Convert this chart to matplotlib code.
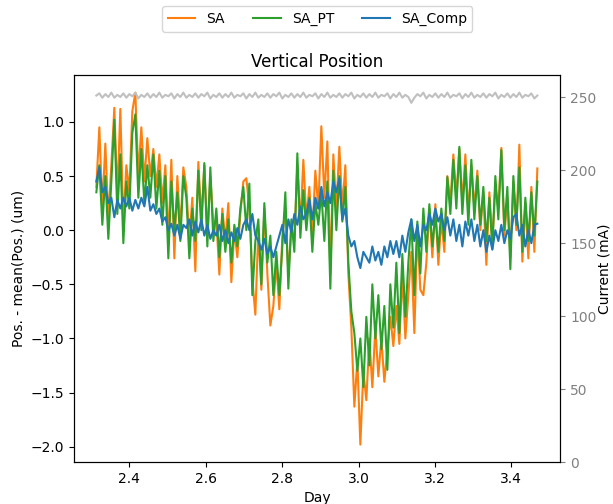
import numpy as np
import matplotlib
matplotlib.use("Agg")
import matplotlib.pyplot as plt

# sample times (day) - regularly sampled
days = np.linspace(2.314, 3.468, 148)

# SA orbit position minus mean (um)
sa = [0.4, 0.95, 0.2, 0.8, 0.1, 0.6, 1.13, 0.3, 1.12, 0.05,
      0.6, 0.35, 1.1, 1.27, 0.5, 0.95, 0.45, 0.85, 0.5, 0.75,
      0.4, 0.7, 0.25, 0.6, -0.1, 0.65, -0.26, 0.5, 0.0, 0.58,
      0.4, -0.1, 0.3, -0.38, 0.63, 0.1, 0.6, -0.05, 0.5, 0.05,
      0.1, -0.41, 0.2, -0.1, 0.25, -0.48, 0.0, -0.25, 0.15, 0.45,
      0.48, 0.2, -0.45, -0.78, 0.0, -0.55, 0.2, -0.4, -0.88, -0.7,
      -0.3, -0.73, -0.05, 0.2, -0.4, 0.0, -0.1, 0.6, 0.05, 0.65,
      0.1, 0.4, -0.05, 0.55, 0.2, 0.96, 0.3, 0.82, -0.4, 0.7,
      0.2, 0.77, 0.2, 0.6, -0.4, -0.9, -1.63, -1.2, -1.98, -1.3,
      -1.57, -1.0, -1.45, -0.9, -1.35, -1.0, -1.4, -1.1, -0.8, -1.07,
      -0.7, -1.05, -0.4, -1.0, -0.6, -0.2, -0.95, 0.0, -0.55, -0.6,
      -0.3, 0.2, -0.25, 0.24, -0.32, 0.1, -0.2, 0.5, 0.25, 0.7,
      0.3, 0.75, 0.25, 0.7, 0.15, 0.6, 0.2, 0.55, 0.0, 0.35,
      -0.32, 0.35, -0.1, 0.4, 0.2, 0.76, -0.05, 0.3, -0.25, 0.45,
      0.0, 0.79, -0.29, 0.25, -0.26, 0.4, -0.2, 0.57]

sa_pt = [0.35, 0.6, 0.05, 0.5, -0.08, 0.45, 1.02, 0.15, 0.7, -0.12,
         0.45, 0.2, 0.9, 1.07, 0.3, 0.75, 0.25, 0.6, 0.3, 0.7,
         0.2, 0.55, 0.05, 0.5, -0.26, 0.45, 0.0, 0.35, -0.1, 0.5,
         0.3, -0.26, 0.2, -0.1, 0.55, 0.0, 0.62, -0.15, 0.58, -0.1,
         0.2, -0.25, 0.15, -0.2, 0.1, -0.3, 0.05, -0.15, 0.2, 0.4,
         0.0, 0.43, -0.6, -0.1, 0.1, -0.5, 0.25, -0.3, -0.05, -0.6,
         -0.2, -0.6, -0.15, 0.35, -0.54, 0.1, -0.2, 0.71, -0.07, 0.37,
         0.0, 0.3, -0.2, 0.25, 0.05, 0.35, -0.1, 0.45, -0.54, 0.55,
         0.0, 0.5, 0.08, 0.4, -0.3, -0.75, -0.95, -1.3, -1.0, -1.45,
         -0.8, -1.25, -0.5, -1.0, -0.6, -1.1, -0.7, -1.29, -0.5, -0.9,
         -0.3, -0.95, -0.22, -0.8, -0.3, 0.1, -0.6, 0.08, -0.4, 0.2,
         -0.2, 0.24, -0.15, 0.15, -0.2, 0.2, -0.1, 0.49, 0.15, 0.65,
         0.2, 0.77, 0.15, 0.6, 0.05, 0.65, 0.1, 0.5, 0.05, 0.4,
         -0.1, 0.3, -0.17, 0.5, 0.1, 0.74, 0.0, 0.4, -0.36, 0.5,
         0.05, 0.58, -0.2, 0.3, -0.1, 0.35, -0.05, 0.45]

sa_comp = [0.45, 0.58, 0.35, 0.4, 0.25, 0.3, 0.12, 0.28, 0.2, 0.3,
           0.22, 0.3, 0.18, 0.28, 0.2, 0.3, 0.22, 0.4, 0.18, 0.24,
           0.15, 0.2, 0.08, 0.12, 0.0, 0.06, -0.05, 0.05, -0.08, 0.05,
           0.02, 0.1, -0.05, 0.08, -0.02, 0.1, -0.05, 0.05, -0.08, 0.0,
           -0.05, 0.05, -0.1, 0.0, -0.12, -0.02, -0.1, 0.02, -0.08, 0.05,
           0.1, 0.0, 0.15, -0.05, -0.1, -0.18, -0.08, -0.22, -0.15, -0.25,
           -0.15, -0.05, 0.05, -0.12, 0.1, -0.02, 0.15, 0.05, 0.22, 0.1,
           0.15, 0.28, 0.1, 0.3, 0.2, 0.4, 0.22, 0.35, 0.25, 0.45,
           0.35, 0.48, 0.1, 0.2, -0.05, -0.15, -0.1, -0.25, -0.35, -0.2,
           -0.25, -0.3, -0.15, -0.28, -0.2, -0.32, -0.15, -0.25, -0.1, -0.22,
           -0.1, -0.25, -0.05, -0.2, -0.02, 0.1, -0.1, 0.05, -0.15, 0.05,
           0.0, 0.15, 0.05, 0.2, 0.08, 0.15, 0.0, 0.12, -0.05, 0.1,
           -0.1, 0.05, -0.15, 0.08, -0.05, 0.1, -0.1, 0.05, -0.15, 0.0,
           -0.2, -0.05, -0.18, 0.0, -0.1, 0.05, -0.12, 0.0, -0.08, 0.12,
           0.15, -0.05, 0.05, -0.15, 0.0, -0.12, 0.05, 0.06]

# beam current (mA)
current = [251, 252.5, 249.5, 252, 250, 253, 249.5, 251.5, 250, 252.5,
           249.5, 252, 250.5, 253, 249, 251.5, 250, 252.5, 249.5, 252,
           250, 253, 249.5, 251.5, 250.5, 252.5, 249, 252, 250, 253,
           249.5, 251.5, 250, 252.5, 249.5, 252, 250.5, 253, 249, 251.5,
           250, 252.5, 249.5, 252, 250, 253, 249.5, 251.5, 250.5, 252.5,
           249, 252, 250, 253, 249.5, 251.5, 250, 252.5, 249.5, 252,
           250.5, 253, 249, 251.5, 250, 252.5, 249.5, 252, 250, 253,
           249.5, 251.5, 250.5, 252.5, 249, 252, 250, 253, 249.5, 251.5,
           250, 252.5, 249.5, 252, 250.5, 253, 249, 251.5, 250, 252.5,
           249.5, 252, 250, 253, 249.5, 251.5, 250.5, 252.5, 249, 252,
           250, 253, 249.5, 251.5, 250, 246, 249.5, 252, 250.5, 253,
           249, 251.5, 250, 252.5, 249.5, 252, 250, 253, 249.5, 251.5,
           250.5, 252.5, 249, 252, 250, 253, 249.5, 251.5, 250, 252.5,
           249.5, 252, 250.5, 253, 249, 251.5, 250, 252.5, 249.5, 252,
           250, 253, 249.5, 251.5, 250.5, 252.5, 249, 251]

fig = plt.figure(figsize=(6.13, 5.04), dpi=100)
ax = fig.add_axes([0.121, 0.083, 0.793, 0.768])

ax.plot(days, sa, color='C1', label='SA')
ax.plot(days, sa_pt, color='C2', label='SA_PT')
ax.plot(days, sa_comp, color='C0', label='SA_Comp')
ax.set_xlabel('Day')
ax.set_ylabel('Pos. - mean(Pos.) (um)')
ax.set_title('Vertical Position')
ax.set_xlim(2.256, 3.528)
ax.legend(loc='center', bbox_to_anchor=(0.5, 1.145), ncol=3)

ax2 = ax.twinx()
ax2.plot(days, current, color='silver', lw=1.5)
ax2.set_ylim(0, 265)
ax2.tick_params(axis='y', colors='gray')
ax2.set_ylabel('Current (mA)', labelpad=1)

fig.savefig('out.png', dpi=100)
